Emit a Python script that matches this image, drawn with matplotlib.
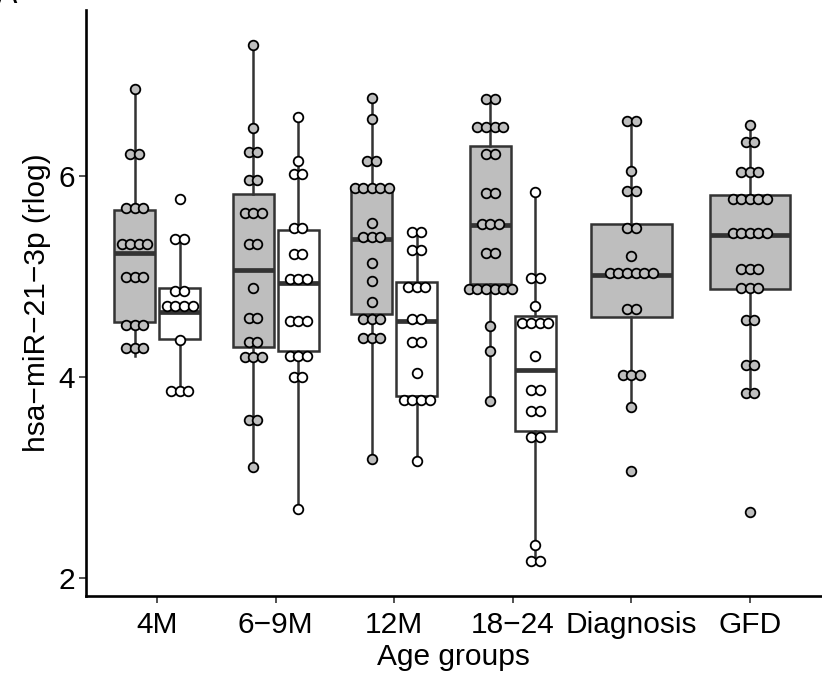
import matplotlib
matplotlib.use("Agg")
import matplotlib.pyplot as plt
import numpy as np

plt.rcParams["font.family"] = ["Liberation Sans", "DejaVu Sans"]

groups = ["4M", "6\u22129M", "12M", "18\u221224", "Diagnosis", "GFD"]

# dot values per box (binned, as drawn in the dotplot layer)
m4_grey = [6.87, 6.22, 6.22, 5.69, 5.69, 5.69, 5.33, 5.33, 5.33, 5.33,
           5.00, 5.00, 5.00, 4.52, 4.52, 4.52, 4.29, 4.29, 4.29]
m4_white = [5.78, 5.38, 5.38, 4.86, 4.86, 4.71, 4.71, 4.71, 4.71, 4.37,
            3.86, 3.86, 3.86]
m69_grey = [7.31, 6.48, 6.24, 6.24, 5.96, 5.96, 5.64, 5.64, 5.64, 5.33,
            5.33, 4.89, 4.59, 4.59, 4.35, 4.35, 4.20, 4.20, 4.20, 3.57,
            3.57, 3.10]
m69_white = [6.59, 6.15, 6.02, 6.02, 5.49, 5.49, 5.23, 5.23, 4.98, 4.98,
             4.98, 4.56, 4.56, 4.56, 4.21, 4.21, 4.21, 4.00, 4.00, 2.68]
m12_grey = [6.78, 6.57, 6.15, 6.15, 5.89, 5.89, 5.89, 5.89, 5.89, 5.54,
            5.40, 5.40, 5.40, 5.14, 4.96, 4.75, 4.58, 4.58, 4.58, 4.39,
            4.39, 4.39, 3.18]
m12_white = [5.45, 5.45, 5.27, 5.27, 4.90, 4.90, 4.90, 4.58, 4.58, 4.35,
             4.35, 4.04, 3.77, 3.77, 3.77, 3.77, 3.16]
m1824_grey = [6.77, 6.77, 6.49, 6.49, 6.49, 6.49, 6.22, 6.22, 5.84, 5.84,
              5.53, 5.53, 5.53, 5.24, 5.24, 4.88, 4.88, 4.88, 4.88, 4.88,
              4.88, 4.51, 4.26, 3.76]
m1824_white = [5.85, 4.99, 4.99, 4.71, 4.54, 4.54, 4.54, 4.54, 4.21, 3.87,
               3.87, 3.66, 3.66, 3.40, 3.40, 2.33, 2.17, 2.17]
diagnosis = [6.55, 6.55, 6.05, 5.86, 5.86, 5.49, 5.49, 5.21, 5.04, 5.04,
             5.04, 5.04, 5.04, 5.04, 4.68, 4.68, 4.02, 4.02, 4.02, 3.70, 3.06]
gfd = [6.51, 6.34, 6.34, 6.04, 6.04, 6.04, 5.78, 5.78, 5.78, 5.78, 5.78,
       5.44, 5.44, 5.44, 5.44, 5.44, 5.08, 5.08, 5.08, 4.89, 4.89, 4.89,
       4.57, 4.57, 4.12, 4.12, 3.84, 3.84, 2.65]

series = [m4_grey, m4_white, m69_grey, m69_white, m12_grey, m12_white,
          m1824_grey, m1824_white, diagnosis, gfd]
box_cat = [0, 0, 1, 1, 2, 2, 3, 3, 4, 5]
box_fill = ["grey", "white", "grey", "white", "grey", "white",
            "grey", "white", "grey", "grey"]

# box statistics
box_q1 = [4.55, 4.38, 4.30, 4.26, 4.63, 3.81, 4.93, 3.46, 4.60, 4.88]
box_med = [5.24, 4.65, 5.07, 4.94, 5.38, 4.56, 5.52, 4.07, 5.02, 5.42]
box_q3 = [5.67, 4.89, 5.83, 5.47, 5.90, 4.95, 6.30, 4.61, 5.53, 5.82]
whisk_lo = [4.21, 3.86, 3.10, 2.68, 3.18, 3.16, 3.76, 2.15, 3.70, 3.84]
whisk_hi = [6.87, 5.38, 7.31, 6.59, 6.78, 5.45, 6.77, 5.85, 6.55, 6.51]

fill_col = {"grey": "#BEBEBE", "white": "#FFFFFF"}
edge = "#333333"

fig = plt.figure(figsize=(8.22, 6.81), dpi=100)
ax = fig.add_axes([86 / 822, 85 / 681, 735 / 822, 586 / 681])

positions, widths = [], []
for i, cat in enumerate(box_cat):
    paired = box_cat.count(cat) == 2
    if paired:
        off = -0.19 if box_fill[i] == "grey" else 0.19
        positions.append(cat + 1 + off)
        widths.append(0.345)
    else:
        positions.append(cat + 1)
        widths.append(0.68)

stats = [{"q1": box_q1[i], "med": box_med[i], "q3": box_q3[i],
          "whislo": whisk_lo[i], "whishi": whisk_hi[i]} for i in range(len(series))]
bp = ax.bxp(stats, positions=positions, widths=widths, patch_artist=True,
            showfliers=False, showcaps=False,
            boxprops=dict(edgecolor=edge, linewidth=1.8),
            whiskerprops=dict(color=edge, linewidth=1.8),
            medianprops=dict(color=edge, linewidth=3.4, solid_capstyle="butt"))
for patch, f in zip(bp["boxes"], box_fill):
    patch.set_facecolor(fill_col[f])

# centred dot stacks
dx = 0.0725
for vals, x0, f in zip(series, positions, box_fill):
    vals = np.asarray(vals)
    xs, ys = [], []
    for v in np.unique(vals):
        n = int((vals == v).sum())
        for k in range(n):
            xs.append(x0 + (k - (n - 1) / 2) * dx)
            ys.append(v)
    ax.scatter(xs, ys, s=48, facecolor=fill_col[f], edgecolor="black",
               linewidth=1.3, zorder=4)

ax.set_xlim(0.4, 6.6)
ax.set_ylim(1.817, 7.66)
ax.set_xticks(range(1, 7))
ax.set_xticklabels(groups)
ax.set_yticks([2, 4, 6])

for s in ["top", "right"]:
    ax.spines[s].set_visible(False)
for s in ["left", "bottom"]:
    ax.spines[s].set_linewidth(1.9)
    ax.spines[s].set_color("black")
ax.tick_params(axis="both", length=5, width=1.2, color=edge, labelsize=21.5,
               labelcolor="black")
ax.tick_params(axis="x", pad=6)
ax.tick_params(axis="y", pad=3)

ax.set_xlabel("Age groups", fontsize=21.5, labelpad=3)
ax.set_ylabel("hsa\u2212miR\u221221\u22123p (rlog)", fontsize=21.5, labelpad=5)

fig.text(-0.004, 0.995, "A", fontsize=22, ha="left", va="baseline")

fig.savefig("out.png", dpi=100)
